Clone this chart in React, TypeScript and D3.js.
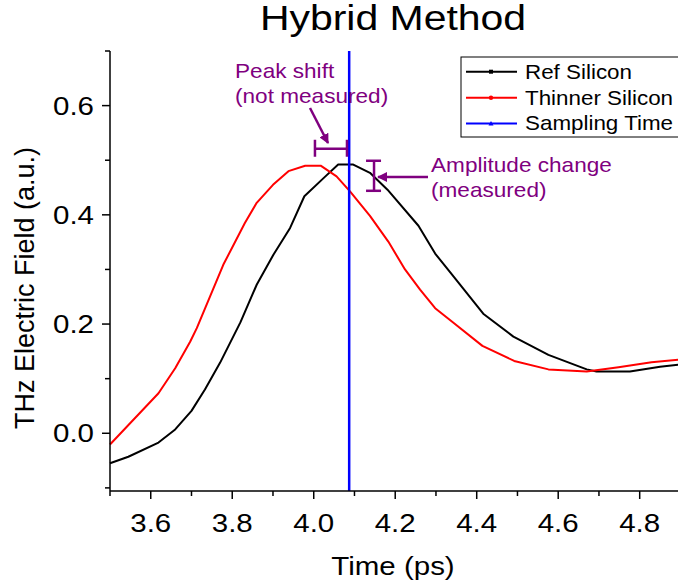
import React from "react";
import * as d3 from "d3";

const W = 678;
const H = 581;

// Data (time in ps, field in a.u.)
const refTime = [3.5, 3.545, 3.619, 3.66, 3.7, 3.733, 3.77, 3.82, 3.86, 3.901, 3.942, 3.977, 4.028, 4.06, 4.097, 4.138, 4.181, 4.257, 4.298, 4.339, 4.416, 4.49, 4.576, 4.67, 4.694, 4.776, 4.85, 4.9];
const refField = [-0.055, -0.043, -0.017, 0.007, 0.041, 0.08, 0.129, 0.203, 0.272, 0.327, 0.376, 0.434, 0.47, 0.492, 0.492, 0.477, 0.446, 0.38, 0.329, 0.291, 0.219, 0.177, 0.1435, 0.117, 0.113, 0.113, 0.122, 0.126];

const thinTime = [3.5, 3.619, 3.66, 3.697, 3.713, 3.778, 3.831, 3.86, 3.9, 3.938, 3.979, 4.017, 4.056, 4.089, 4.138, 4.183, 4.224, 4.261, 4.298, 4.339, 4.414, 4.492, 4.576, 4.67, 4.748, 4.829, 4.9];
const thinField = [-0.0205, 0.0733, 0.119, 0.168, 0.1925, 0.3085, 0.385, 0.422, 0.455, 0.48, 0.49, 0.49, 0.4705, 0.443, 0.398, 0.351, 0.3, 0.263, 0.229, 0.2046, 0.16, 0.1325, 0.117, 0.113, 0.121, 0.13, 0.135];

const samplingTime = 4.087;

const xMajorTicks = [3.6, 3.8, 4.0, 4.2, 4.4, 4.6, 4.8];
const xMinorTicks = [3.5, 3.7, 3.9, 4.1, 4.3, 4.5, 4.7, 4.9];
const yMajorTicks = [0.0, 0.2, 0.4, 0.6];
const yMinorTicks = [-0.1, 0.1, 0.3, 0.5, 0.7];

const legendLabels = ["Ref Silicon", "Thinner Silicon", "Sampling Time"];
const legendColors = ["#000000", "#ff0000", "#0000ff"];

// Annotation anchors (data units)
const peakShiftBar = { x0: 4.003, x1: 4.0816, y: 0.521 };
const ampBar = { x: 4.148, y0: 0.444, y1: 0.499 };

const PURPLE = "#7f007f";
const FONT = "'Liberation Sans', Arial, sans-serif";

const left = 110, right = 678, top = 51, bottom = 491;

export default function App() {
  const x = d3.scaleLinear().domain([3.5, 4.894]).range([left, right]);
  const y = d3.scaleLinear().domain([-0.1057, 0.7]).range([bottom, top]);

  const line = d3.line<[number, number]>().x((d) => x(d[0])).y((d) => y(d[1]));
  const refPts = refTime.map((t, i) => [t, refField[i]] as [number, number]);
  const thinPts = thinTime.map((t, i) => [t, thinField[i]] as [number, number]);

  const sText = (
    tx: number,
    ty: number,
    s: number,
    content: string,
    size: number,
    anchor: string,
    fill = "#000"
  ) => (
    <text
      transform={`translate(${tx},${ty}) scale(${s},1)`}
      textAnchor={anchor as any}
      fontSize={size}
      fontFamily={FONT}
      fill={fill}
    >
      {content}
    </text>
  );

  const legendY = [71.7, 97.7, 123.4];

  return (
    <svg
      width={W}
      height={H}
      viewBox={`0 0 ${W} ${H}`}
      style={{ position: "absolute", left: 0, top: 0, background: "#fff" }}
    >
      <rect x={0} y={0} width={W} height={H} fill="#fff" />
      {/* Title */}
      {sText(393, 30, 1.17, "Hybrid Method", 35, "middle")}

      {/* Curves */}
      <path d={line(refPts) || ""} fill="none" stroke="#000" strokeWidth={2} strokeLinejoin="round" />
      <path d={line(thinPts) || ""} fill="none" stroke="#ff0000" strokeWidth={2} strokeLinejoin="round" />
      <line x1={x(samplingTime)} x2={x(samplingTime)} y1={top} y2={bottom} stroke="#0000ff" strokeWidth={2.5} />

      {/* Axes */}
      <line x1={left} x2={left} y1={top} y2={bottom} stroke="#000" strokeWidth={1.5} />
      <line x1={left} x2={right} y1={bottom} y2={bottom} stroke="#000" strokeWidth={1.5} />
      {yMajorTicks.map((v) => (
        <g key={"ym" + v}>
          <line x1={left - 8} x2={left} y1={y(v)} y2={y(v)} stroke="#000" strokeWidth={1.5} />
          {sText(left - 16, y(v) + 9, 1.18, d3.format(".1f")(v), 25, "end")}
        </g>
      ))}
      {yMinorTicks.map((v) => (
        <line key={"yn" + v} x1={left - 5} x2={left} y1={y(v)} y2={y(v)} stroke="#000" strokeWidth={1.5} />
      ))}
      {xMajorTicks.map((v) => (
        <g key={"xm" + v}>
          <line x1={x(v)} x2={x(v)} y1={bottom} y2={bottom + 8} stroke="#000" strokeWidth={1.5} />
          {sText(x(v), bottom + 41, 1.18, d3.format(".1f")(v), 25, "middle")}
        </g>
      ))}
      {xMinorTicks.map((v) => (
        <line key={"xn" + v} x1={x(v)} x2={x(v)} y1={bottom} y2={bottom + 5} stroke="#000" strokeWidth={1.5} />
      ))}

      {/* Axis labels */}
      {sText(393, 575, 1.18, "Time (ps)", 25, "middle")}
      <text
        transform="translate(34,288) rotate(-90)"
        textAnchor="middle"
        fontSize={27}
        fontFamily={FONT}
        fill="#000"
      >
        THz Electric Field (a.u.)
      </text>

      {/* Legend */}
      <rect x={461} y={57} width={240} height={80} fill="#fff" stroke="#000" strokeWidth={1} />
      {legendLabels.map((lab, i) => (
        <g key={lab}>
          <line x1={466} x2={517} y1={legendY[i]} y2={legendY[i]} stroke={legendColors[i]} strokeWidth={2} />
          {i === 0 && <rect x={489} y={legendY[i] - 2} width={4} height={4} fill={legendColors[i]} />}
          {i === 1 && <circle cx={491} cy={legendY[i]} r={2.2} fill={legendColors[i]} />}
          {i === 2 && (
            <path
              d={`M${491},${legendY[i] - 2.5}L${493.5},${legendY[i] + 2}L${488.5},${legendY[i] + 2}Z`}
              fill={legendColors[i]}
            />
          )}
          {sText(525, legendY[i] + 7, 1.12, lab, 20, "start")}
        </g>
      ))}

      {/* Annotations */}
      <defs>
        <marker id="ah" viewBox="0 0 10 10" refX={9} refY={5} markerWidth={4} markerHeight={4} orient="auto" markerUnits="strokeWidth">
          <path d="M0,0L10,5L0,10Z" fill={PURPLE} />
        </marker>
      </defs>
      {sText(235, 78, 1.13, "Peak shift", 20, "start", PURPLE)}
      {sText(235, 103, 1.13, "(not measured)", 20, "start", PURPLE)}
      <line x1={310} y1={108} x2={328} y2={143} stroke={PURPLE} strokeWidth={2.5} markerEnd="url(#ah)" />
      <g stroke={PURPLE} strokeWidth={2.5}>
        <line x1={x(peakShiftBar.x0)} x2={x(peakShiftBar.x1)} y1={y(peakShiftBar.y)} y2={y(peakShiftBar.y)} />
        <line x1={x(peakShiftBar.x0)} x2={x(peakShiftBar.x0)} y1={y(peakShiftBar.y) - 9} y2={y(peakShiftBar.y) + 8} />
        <line x1={x(peakShiftBar.x1)} x2={x(peakShiftBar.x1)} y1={y(peakShiftBar.y) - 9} y2={y(peakShiftBar.y) + 8} />
        <line x1={x(ampBar.x)} x2={x(ampBar.x)} y1={y(ampBar.y1)} y2={y(ampBar.y0)} />
        <line x1={x(ampBar.x) - 8} x2={x(ampBar.x) + 7} y1={y(ampBar.y1)} y2={y(ampBar.y1)} />
        <line x1={x(ampBar.x) - 8} x2={x(ampBar.x) + 7} y1={y(ampBar.y0)} y2={y(ampBar.y0)} />
      </g>
      <line x1={428} y1={177} x2={378} y2={177} stroke={PURPLE} strokeWidth={2.5} markerEnd="url(#ah)" />
      {sText(431, 172, 1.13, "Amplitude change", 20, "start", PURPLE)}
      {sText(431, 197, 1.13, "(measured)", 20, "start", PURPLE)}
    </svg>
  );
}
